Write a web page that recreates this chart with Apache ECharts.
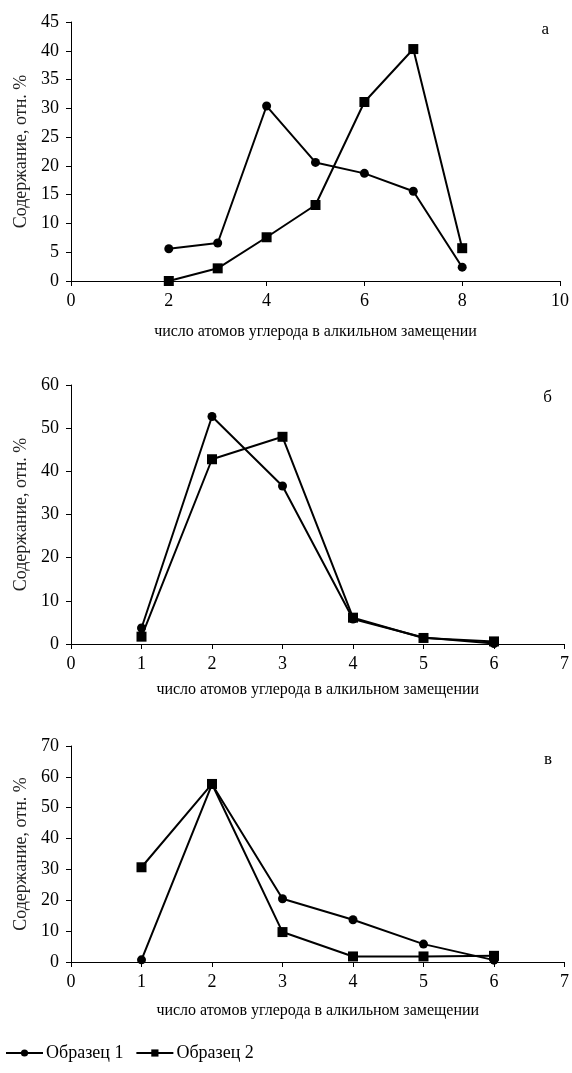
<!DOCTYPE html>
<html>
<head>
<meta charset="utf-8">
<script src="https://cdn.jsdelivr.net/npm/echarts@6/dist/echarts.min.js"></script>
<style>
  html, body { margin: 0; padding: 0; background: #fff; }
  #chart { width: 572px; height: 1073px; }
</style>
</head>
<body>
<div id="chart"></div>
<script>
// данные
var xA = [2, 3, 4, 5, 6, 7, 8];
var a1 = [5.6, 6.6, 30.4, 20.6, 18.7, 15.6, 2.4];
var a2 = [0, 2.2, 7.6, 13.2, 31.1, 40.3, 5.7];

var xB = [1, 2, 3, 4, 5, 6];
var b1 = [3.7, 52.7, 36.6, 5.8, 1.5, 0.1];
var b2 = [1.7, 42.8, 48.0, 6.1, 1.4, 0.6];

var xC = [1, 2, 3, 4, 5, 6];
var c1 = [0.7, 57.6, 20.5, 13.7, 5.8, 0.6];
var c2 = [30.7, 57.7, 9.7, 1.8, 1.8, 2.0];

var names = ['Образец 1', 'Образец 2'];
var letters = ['а', 'б', 'в'];
var xName = 'число атомов углерода в алкильном замещении';
var yName = 'Содержание, отн. %';

function pairs (xs, ys) {
    var out = [];
    for (var i = 0; i < xs.length; i++) {
        out.push([xs[i], ys[i]]);
    }
    return out;
}

var font = 'Liberation Serif';
var black = '#000';

function xAxisOf (gi, max, interval, gap) {
    return {
        type: 'value', gridIndex: gi, min: 0, max: max, interval: interval,
        name: xName, nameLocation: 'middle', nameGap: gap,
        nameTextStyle: { color: black, fontFamily: font, fontSize: 16 },
        axisLine: { lineStyle: { color: black, width: 1 } },
        axisTick: { lineStyle: { color: black }, length: 5 },
        axisLabel: { color: black, fontFamily: font, fontSize: 18, margin: 11 },
        splitLine: { show: false }
    };
}

function yAxisOf (gi, max, interval) {
    return {
        type: 'value', gridIndex: gi, min: 0, max: max, interval: interval,
        name: yName, nameLocation: 'middle', nameGap: 39, nameRotate: 90,
        nameTextStyle: { color: '#222', fontFamily: font, fontSize: 18 },
        axisLine: { show: true, lineStyle: { color: black, width: 1 } },
        axisTick: { show: true, lineStyle: { color: black }, length: 5 },
        axisLabel: { color: black, fontFamily: font, fontSize: 18, margin: 12 },
        splitLine: { show: false }
    };
}

function line (name, gi, data, symbol) {
    return {
        name: name, type: 'line', xAxisIndex: gi, yAxisIndex: gi,
        data: data, symbol: symbol, symbolSize: symbol == 'circle' ? 9 : 10,
        itemStyle: { color: black },
        lineStyle: { color: black, width: 2 },
        animation: false
    };
}

var myChart = echarts.init(document.getElementById('chart'));

var letterStyle = { fontFamily: font, fontSize: 17, fontWeight: 'normal', color: black };

var option = {
    backgroundColor: '#fff',
    animation: false,
    title: [
        { text: letters[0], right: 18, top: 16, textStyle: letterStyle },
        { text: letters[1], right: 15, top: 384, textStyle: letterStyle },
        { text: letters[2], right: 15, top: 746, textStyle: letterStyle }
    ],
    legend: {
        left: 0, top: 1039,
        itemWidth: 37, itemHeight: 9, itemGap: 12,
        textStyle: { color: black, fontFamily: font, fontSize: 18, padding: [0, 0, 0, -2] },
        data: names
    },
    grid: [
        { left: 71, width: 490, top: 22, height: 259 },
        { left: 71, width: 495, top: 385, height: 259 },
        { left: 71, width: 495, top: 746, height: 216 }
    ],
    xAxis: [
        xAxisOf(0, 10, 2, 43),
        xAxisOf(1, 7, 1, 38),
        xAxisOf(2, 7, 1, 41)
    ],
    yAxis: [
        yAxisOf(0, 45, 5),
        yAxisOf(1, 60, 10),
        yAxisOf(2, 70, 10)
    ],
    series: [
        line(names[0], 0, pairs(xA, a1), 'circle'),
        line(names[1], 0, pairs(xA, a2), 'rect'),
        line(names[0], 1, pairs(xB, b1), 'circle'),
        line(names[1], 1, pairs(xB, b2), 'rect'),
        line(names[0], 2, pairs(xC, c1), 'circle'),
        line(names[1], 2, pairs(xC, c2), 'rect')
    ]
};

myChart.setOption(option);
</script>
</body>
</html>
